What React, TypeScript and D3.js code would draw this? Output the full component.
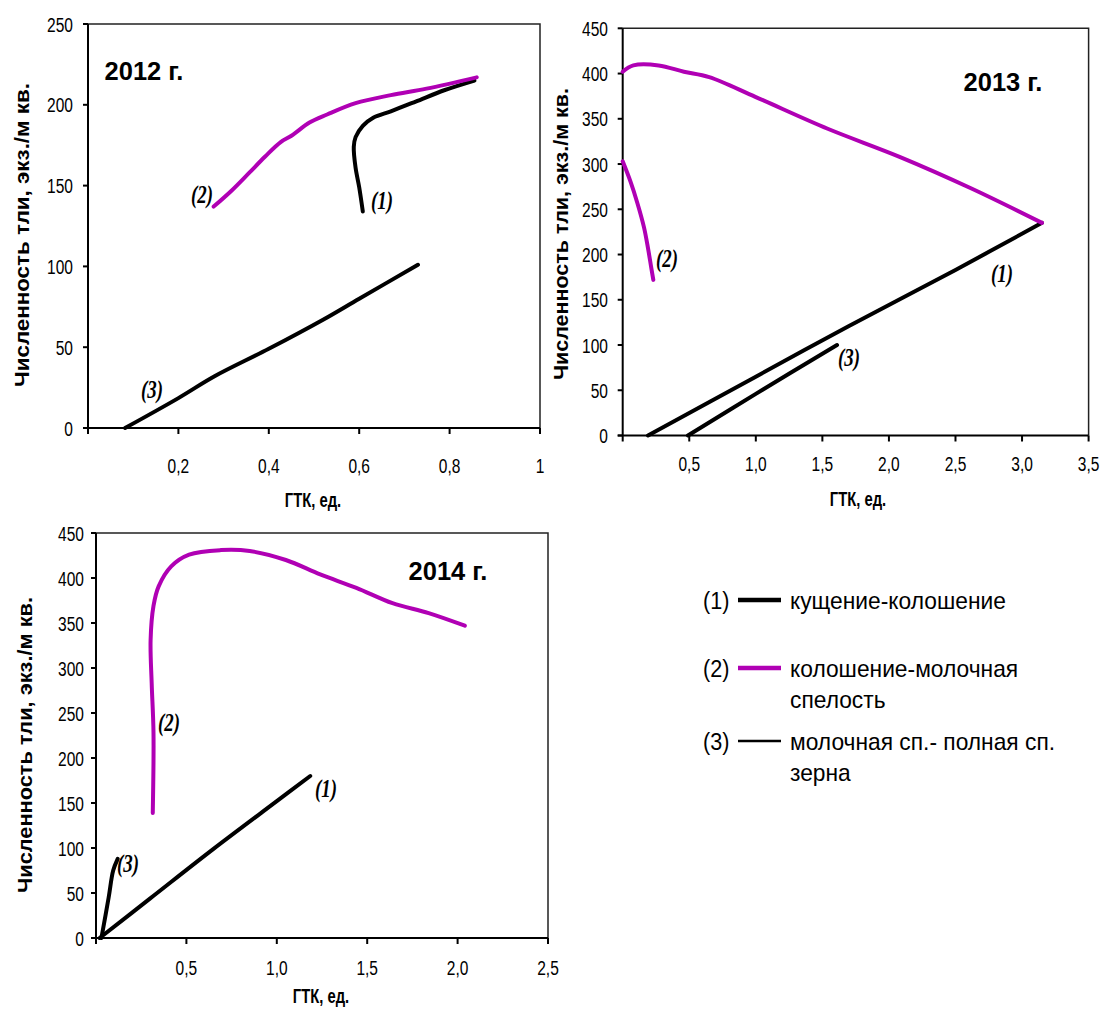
import React from "react";
import * as d3 from "d3";

// ---------- data ----------
const yTitle = "Численность тли, экз./м кв.";
const xTitle = "ГТК, ед.";

// 2012
const ticksX2012 = [0.2, 0.4, 0.6, 0.8, 1];
const tickLabelsX2012 = ["0,2", "0,4", "0,6", "0,8", "1"];
const ticksY2012 = [0, 50, 100, 150, 200, 250];
const s1x2012 = [0.608, 0.6, 0.592, 0.588, 0.592, 0.608, 0.631, 0.67, 0.725, 0.788, 0.855];
const s1y2012 = [134, 149, 161, 174, 180, 187, 192, 196, 202, 209, 215];
const s2x2012 = [0.278, 0.318, 0.357, 0.392, 0.427, 0.451, 0.49, 0.529, 0.592, 0.67, 0.749, 0.86];
const s2y2012 = [137, 147, 158, 168, 177, 181, 189, 194, 201, 206, 210, 217];
const s3x2012 = [0.082, 0.2, 0.28, 0.4, 0.52, 0.6, 0.73];
const s3y2012 = [0, 18.5, 32, 49, 67, 80, 101];

// 2013
const ticksX2013 = [0.5, 1, 1.5, 2, 2.5, 3, 3.5];
const tickLabelsX2013 = ["0,5", "1,0", "1,5", "2,0", "2,5", "3,0", "3,5"];
const ticksY2013 = [0, 50, 100, 150, 200, 250, 300, 350, 400, 450];
const s1x2013 = [0.19, 1.0, 1.7, 2.5, 3.15];
const s1y2013 = [0, 65, 121, 183, 235];
const s2ax2013 = [3.15, 2.62, 2.08, 1.54, 1.0, 0.65, 0.46, 0.27, 0.08, 0.0];
const s2ay2013 = [235, 273, 308, 339, 374, 396, 402, 409, 409, 402];
const s2bx2013 = [0.0, 0.06, 0.11, 0.16, 0.19, 0.215, 0.23];
const s2by2013 = [303, 280, 257, 230, 207, 185, 172];
const s3x2013 = [0.49, 1.0, 1.61];
const s3y2013 = [0, 46, 100];

// 2014
const ticksX2014 = [0.5, 1, 1.5, 2, 2.5];
const tickLabelsX2014 = ["0,5", "1,0", "1,5", "2,0", "2,5"];
const ticksY2014 = [0, 50, 100, 150, 200, 250, 300, 350, 400, 450];
const s1x2014 = [0.02, 0.3, 0.65, 1.0, 1.185];
const s1y2014 = [0, 44, 99, 152, 180];
const s2x2014 = [0.314, 0.318, 0.308, 0.302, 0.318, 0.347, 0.416, 0.515, 0.69, 0.85, 1.05, 1.24, 1.44, 1.64, 1.84, 2.04];
const s2y2014 = [139, 228, 283, 331, 369, 391, 413, 426, 431, 430, 420, 404, 389, 372, 361, 347];
const s3x2014 = [0.03, 0.07, 0.095, 0.12];
const s3y2014 = [0, 45, 75, 88];

const legendKeys = ["(1)", "(2)", "(3)"];
const legendLines = [["кущение-колошение"], ["колошение-молочная", "спелость"], ["молочная сп.- полная сп.", "зерна"]];

const MAGENTA = "#B000B4";
const BLACK = "#000";

// ---------- helpers ----------
const zip = (xs: number[], ys: number[]) => xs.map((x, i) => [x, ys[i]] as [number, number]);

function T(props: any) {
  const { x, y, sx = 1, sy = 1, rotate = 0, size, weight = "normal", style = "normal", family = "'Liberation Sans', Arial, sans-serif", anchor = "start", dy, children, fill = "#000", textLength } = props;
  return (
    <text
      transform={`translate(${x},${y}) rotate(${rotate}) scale(${sx},${sy})`}
      fontSize={size}
      fontWeight={weight}
      fontStyle={style}
      fontFamily={family}
      textAnchor={anchor}
      dy={dy}
      fill={fill}
      textLength={textLength}
      lengthAdjust={textLength ? "spacingAndGlyphs" : undefined}
    >
      {children}
    </text>
  );
}

function Panel(props: any) {
  const { xd, xr, yd, yr, xTicks, xLabels, yTicks, series, xLabY, yLabRight, yTitlePos, yTitleLen, xTitlePos, year, labels } = props;
  const x = d3.scaleLinear().domain(xd).range(xr);
  const y = d3.scaleLinear().domain(yd).range(yr);
  const line = d3.line<[number, number]>().x((d) => x(d[0])).y((d) => y(d[1])).curve(d3.curveCatmullRom.alpha(0.5));
  const [x0, x1] = xr;
  const [y0, y1] = yr;
  return (
    <g>
      {/* frame */}
      <path d={`M${x0},${y1} H${x1} V${y0}`} fill="none" stroke="#222" strokeWidth={1.5} />
      {/* axes */}
      <line x1={x0} x2={x0} y1={y1} y2={y0 + 6} stroke="#000" strokeWidth={2} />
      <line x1={x0 - 5} x2={x1} y1={y0} y2={y0} stroke="#000" strokeWidth={2} />
      {yTicks.map((t: number) => (
        <line key={"yt" + t} x1={x0 - 5} x2={x0} y1={y(t)} y2={y(t)} stroke="#000" strokeWidth={2} />
      ))}
      {xTicks.map((t: number) => (
        <line key={"xt" + t} x1={x(t)} x2={x(t)} y1={y0} y2={y0 + 6} stroke="#000" strokeWidth={2} />
      ))}
      {yTicks.map((t: number) => (
        <T key={"yl" + t} x={yLabRight} y={y(t)} dy="0.36em" size={21} sx={0.74} anchor="end">
          {String(t)}
        </T>
      ))}
      {xTicks.map((t: number, i: number) => (
        <T key={"xl" + t} x={x(t)} y={xLabY} dy="0.36em" size={21} sx={0.74} anchor="middle">
          {xLabels[i]}
        </T>
      ))}
      {/* titles */}
      <T x={yTitlePos[0]} y={yTitlePos[1]} rotate={-90} size={20} weight="bold" anchor="middle" dy="0.36em" textLength={yTitleLen}>
        {yTitle}
      </T>
      <T x={xTitlePos[0]} y={xTitlePos[1]} size={20} weight="bold" sx={0.74} anchor="middle" dy="0.36em">
        {xTitle}
      </T>
      <T x={year.x} y={year.y} size={26} weight="bold" sx={0.98} anchor="middle">
        {year.text}
      </T>
      {/* series */}
      {series.map((s: any, i: number) => (
        <path key={"s" + i} d={line(s.pts) || ""} fill="none" stroke={s.color} strokeWidth={4} strokeLinecap="round" strokeLinejoin="round" />
      ))}
      {labels.map((l: any, i: number) => (
        <T key={"lb" + i} x={l.x} y={l.y} dy="0.36em" size={21} sx={0.9} sy={1.15} weight="bold" style="italic" family="'Liberation Serif', 'Times New Roman', serif" anchor="middle">
          {l.text}
        </T>
      ))}
    </g>
  );
}

export default function App() {
  return (
    <svg width={1104} height={1009} style={{ position: "absolute", left: 0, top: 0, background: "#fff" }}>
      <rect width={1104} height={1009} fill="#fff" />
      <Panel
        xd={[0, 1]} xr={[88, 540]} yd={[0, 250]} yr={[428, 24]}
        xTicks={ticksX2012} xLabels={tickLabelsX2012} yTicks={ticksY2012}
        xLabY={465} yLabRight={73}
        yTitlePos={[22, 235]} yTitleLen={304} xTitlePos={[313, 500]}
        year={{ x: 144, y: 80, text: "2012 г." }}
        series={[
          { pts: zip(s3x2012, s3y2012), color: BLACK },
          { pts: zip(s1x2012, s1y2012), color: BLACK },
          { pts: zip(s2x2012, s2y2012), color: MAGENTA },
        ]}
        labels={[
          { x: 202, y: 194, text: "(2)" },
          { x: 382, y: 200, text: "(1)" },
          { x: 152, y: 389, text: "(3)" },
        ]}
      />
      <Panel
        xd={[0, 3.5]} xr={[622.7, 1088.6]} yd={[0, 450]} yr={[435.5, 28.3]}
        xTicks={ticksX2013} xLabels={tickLabelsX2013} yTicks={ticksY2013}
        xLabY={463} yLabRight={608}
        yTitlePos={[561, 234]} yTitleLen={292} xTitlePos={[858, 499]}
        year={{ x: 1003, y: 91, text: "2013 г." }}
        series={[
          { pts: zip(s1x2013, s1y2013), color: BLACK },
          { pts: zip(s3x2013, s3y2013), color: BLACK },
          { pts: zip(s2ax2013, s2ay2013), color: MAGENTA },
          { pts: zip(s2bx2013, s2by2013), color: MAGENTA },
        ]}
        labels={[
          { x: 667, y: 258, text: "(2)" },
          { x: 1002, y: 273, text: "(1)" },
          { x: 849, y: 357, text: "(3)" },
        ]}
      />
      <Panel
        xd={[0, 2.5]} xr={[96, 548]} yd={[0, 450]} yr={[938, 533]}
        xTicks={ticksX2014} xLabels={tickLabelsX2014} yTicks={ticksY2014}
        xLabY={967} yLabRight={84}
        yTitlePos={[25, 745]} yTitleLen={296} xTitlePos={[321, 996]}
        year={{ x: 448, y: 580, text: "2014 г." }}
        series={[
          { pts: zip(s1x2014, s1y2014), color: BLACK },
          { pts: zip(s3x2014, s3y2014), color: BLACK },
          { pts: zip(s2x2014, s2y2014), color: MAGENTA },
        ]}
        labels={[
          { x: 169, y: 722, text: "(2)" },
          { x: 326, y: 788, text: "(1)" },
          { x: 128, y: 863, text: "(3)" },
        ]}
      />
      {/* legend */}
      {legendKeys.map((k, i) => {
        const ys = [600, 668, 741];
        const colors = [BLACK, MAGENTA, BLACK];
        const widths = [4.5, 4.5, 2.5];
        return (
          <g key={"lg" + i}>
            <T x={703} y={ys[i]} dy="0.36em" size={24} sx={0.9}>{k}</T>
            <line x1={738} x2={781} y1={ys[i]} y2={ys[i]} stroke={colors[i]} strokeWidth={widths[i]} />
            {legendLines[i].map((t, j) => (
              <T key={j} x={790} y={ys[i] + j * 31} dy="0.36em" size={24} sx={0.95}>{t}</T>
            ))}
          </g>
        );
      })}
    </svg>
  );
}
